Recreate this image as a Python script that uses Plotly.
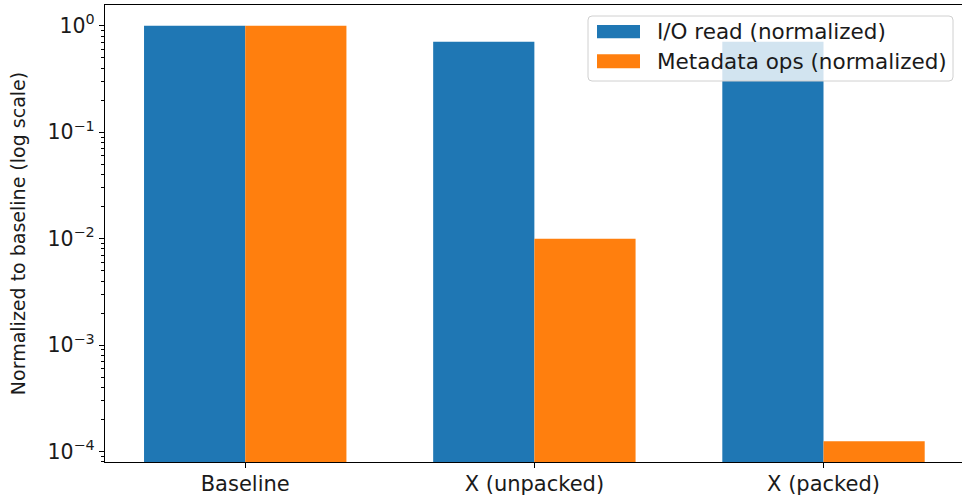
import plotly.graph_objects as go

categories = ["Baseline", "X (unpacked)", "X (packed)"]
io_read = [1.0, 0.707, 0.707]
metadata_ops = [1.0, 0.01, 0.000125]
series_names = ["I/O read (normalized)", "Metadata ops (normalized)"]
colors = ["#1f77b4", "#ff7f0e"]
ytick_vals = [1, 0.1, 0.01, 0.001, 0.0001]
ytick_text = ["10<sup>0</sup>", "10<sup>−1</sup>", "10<sup>−2</sup>", "10<sup>−3</sup>", "10<sup>−4</sup>"]

W, H = 962, 497
L, R, T, B = 105, 0, 5, 35
FONT = "DejaVu Sans"
FS = 21

fig = go.Figure()
for name, vals, c in zip(series_names, [io_read, metadata_ops], colors):
    fig.add_trace(go.Bar(x=categories, y=vals, name=name, marker=dict(color=c, line=dict(width=0)),
                         showlegend=False))

minor_vals = [m * 10 ** k for k in range(-5, 1) for m in range(2, 10)]

fig.update_layout(
    width=W, height=H,
    margin=dict(l=L, r=R, t=T, b=B, autoexpand=False),
    paper_bgcolor="white", plot_bgcolor="white",
    barmode="group", bargap=0.3, bargroupgap=0,
    font=dict(family=FONT, size=FS, color="#1a1a1a"),
    xaxis=dict(range=[-0.485, 2.479], showline=True, linecolor="black", linewidth=1.3, mirror=True,
               ticks="outside", ticklen=5, tickcolor="black", showgrid=False, zeroline=False,
               tickfont=dict(size=FS), ticklabelstandoff=-2),
    yaxis=dict(type="log", range=[-4.098, 0.195], showline=True, linecolor="black", linewidth=1.3,
               ticks="outside", ticklen=5, tickcolor="black", showgrid=False, zeroline=False,
               tickvals=ytick_vals, ticktext=ytick_text, tickfont=dict(size=20.5),
               minor=dict(ticks="outside", ticklen=3, tickcolor="black", tickvals=minor_vals, showgrid=False),
               title=dict(text="Normalized to baseline (log scale)", font=dict(size=19), standoff=16)),
)

pw = W - L - R
ph = H - T - B
def px(x):
    return (x - L) / pw
def py(y):
    return 1 - (y - T) / ph

# legend box
x0, x1, y0, y1 = 588, 953, 16, 81
r = 4
path = (f"M {px(x0+r)},{py(y0)} L {px(x1-r)},{py(y0)} Q {px(x1)},{py(y0)} {px(x1)},{py(y0+r)} "
        f"L {px(x1)},{py(y1-r)} Q {px(x1)},{py(y1)} {px(x1-r)},{py(y1)} "
        f"L {px(x0+r)},{py(y1)} Q {px(x0)},{py(y1)} {px(x0)},{py(y1-r)} "
        f"L {px(x0)},{py(y0+r)} Q {px(x0)},{py(y0)} {px(x0+r)},{py(y0)} Z")
fig.add_shape(type="path", path=path, xref="paper", yref="paper", layer="above",
              fillcolor="rgba(255,255,255,0.8)", line=dict(color="#d0d0d0", width=1))
rows = [(25, 38.3), (54.3, 68.3)]
for (ya, yb), name, c in zip(rows, series_names, colors):
    fig.add_shape(type="rect", xref="paper", yref="paper", layer="above",
                  x0=px(597), x1=px(640), y0=py(yb), y1=py(ya), fillcolor=c, line=dict(width=0))
    fig.add_annotation(x=px(655), y=py((ya + yb) / 2), xref="paper", yref="paper", text=name,
                       showarrow=False, xanchor="left", yanchor="middle", font=dict(size=21.5, color="#1a1a1a"))

fig.write_html("out.html", config={"displayModeBar": False},
               post_script="document.body.style.margin='0';document.body.style.overflow='hidden';")
